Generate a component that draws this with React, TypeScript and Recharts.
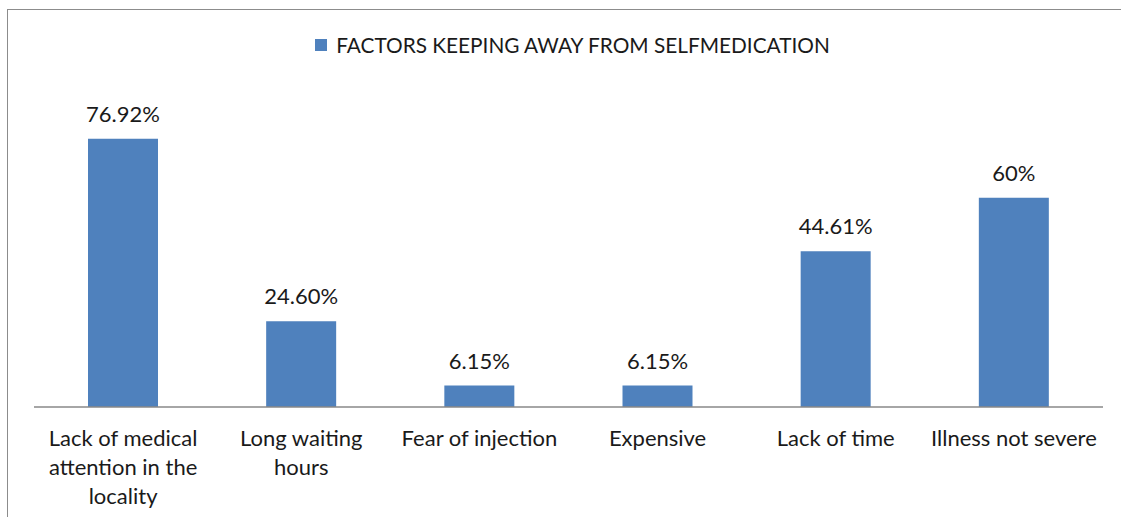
import { BarChart, Bar, XAxis, YAxis, Legend, LabelList } from 'recharts';

const categories = [
  'Lack of medical\nattention in the\nlocality',
  'Long waiting\nhours',
  'Fear of injection',
  'Expensive',
  'Lack of time',
  'Illness not severe',
];
const percentValues = [76.92, 24.6, 6.15, 6.15, 44.61, 60];
const valueLabels = ['76.92%', '24.60%', '6.15%', '6.15%', '44.61%', '60%'];
const seriesName = 'FACTORS KEEPING AWAY FROM SELFMEDICATION';

const data = categories.map((c, i) => ({ category: c, value: percentValues[i], label: valueLabels[i] }));

const FONT = 'Lato, "Open Sans", sans-serif';
const BLUE = '#4F81BD';

const CategoryTick = ({ x, y, payload }: any) => {
  const lines = String(payload.value).split('\n');
  return (
    <text x={x} y={y + 31} textAnchor="middle" fill="#1a1a1a" fontFamily={FONT} fontSize={22}>
      {lines.map((line: string, i: number) => (
        <tspan key={i} x={x} dy={i === 0 ? 0 : 29}>{line}</tspan>
      ))}
    </text>
  );
};

const CustomLegend = () => (
  <div style={{ display: 'flex', alignItems: 'center', justifyContent: 'center', fontFamily: FONT, height: 22, paddingLeft: 24 }}>
    <div style={{ width: 12, height: 12, backgroundColor: BLUE, marginRight: 9 }} />
    <span style={{ fontSize: 20.8, color: '#1a1a1a', lineHeight: '22px' }}>{seriesName}</span>
  </div>
);

const App = () => {
  return (
    <div style={{ position: 'absolute', left: 0, top: 0, width: 1121, height: 517, overflow: 'hidden', background: '#fff' }}>
      <div style={{ position: 'absolute', left: 7, top: 9, width: 1130, height: 530, border: '1px solid #8c8c8c' }} />
      <BarChart
        width={1121}
        height={517}
        data={data}
        margin={{ top: 71, right: 18, bottom: 10, left: 34 }}
        style={{ position: 'absolute', left: 0, top: 0 }}
      >
        <XAxis
          dataKey="category"
          interval={0}
          tickLine={false}
          height={100}
          axisLine={{ stroke: '#898989', strokeWidth: 1.5 }}
          tick={<CategoryTick />}
        />
        <YAxis hide domain={[0, 90]} />
        <Legend
          verticalAlign="top"
          content={<CustomLegend />}
          wrapperStyle={{ top: 34, left: 0, width: 1121 }}
        />
        <Bar dataKey="value" name={seriesName} fill={BLUE} barSize={70} isAnimationActive={false}>
          <LabelList dataKey="label" position="top" offset={17} fill="#1a1a1a" fontFamily={FONT} fontSize={22} />
        </Bar>
      </BarChart>
    </div>
  );
};

export default App;
